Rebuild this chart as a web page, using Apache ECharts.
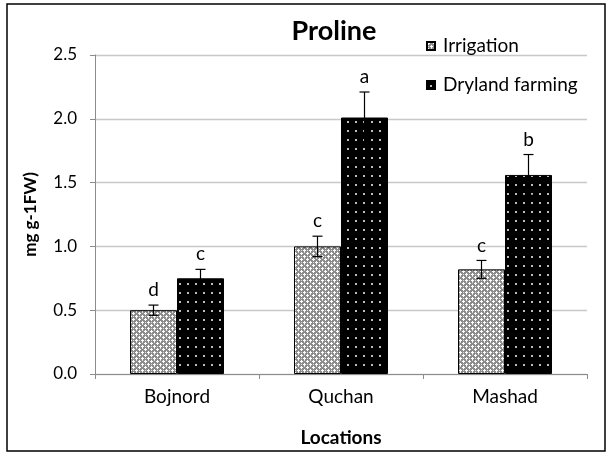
<!DOCTYPE html>
<html><head><meta charset="utf-8">
<script src="https://cdn.jsdelivr.net/npm/echarts@6/dist/echarts.min.js"></script>
<style>html,body{margin:0;padding:0;background:#fff}#c{width:608px;height:453px}</style>
</head><body><div id="c"></div>
<script>
const categories = ['Bojnord', 'Quchan', 'Mashad'];
const irrigation = [0.50, 1.00, 0.82];
const irrigationErr = [0.04, 0.08, 0.07];
const irrigationLetters = ['d', 'c', 'c'];
const dryland = [0.75, 2.01, 1.56];
const drylandErr = [0.07, 0.20, 0.16];
const drylandLetters = ['c', 'a', 'b'];
const yTicks = [0, 0.5, 1.0, 1.5, 2.0, 2.5];

const FONT = 'Lato';

function makeIrrigationPattern() {
  const c = document.createElement('canvas');
  c.width = 6; c.height = 6;
  const g = c.getContext('2d');
  g.fillStyle = '#8c8c8c';
  g.fillRect(0, 0, 6, 6);
  g.fillStyle = '#ffffff';
  g.fillRect(1, 0, 1, 3); g.fillRect(0, 1, 3, 1);
  g.fillRect(4, 3, 1, 3); g.fillRect(3, 4, 3, 1);
  g.fillStyle = '#d8d8d8';
  g.fillRect(4, 0, 1, 1); g.fillRect(1, 4, 1, 1);
  return c;
}
function makeDrylandPattern() {
  const c = document.createElement('canvas');
  c.width = 8; c.height = 9;
  const g = c.getContext('2d');
  g.fillStyle = '#000000';
  g.fillRect(0, 0, 8, 9);
  g.fillStyle = '#bdbdbd';
  g.fillRect(3, 4, 2, 2);
  return c;
}
const irrPat = { image: makeIrrigationPattern(), repeat: 'repeat' };
const dryPat = { image: makeDrylandPattern(), repeat: 'repeat' };

const BW = 47;
function errSeries(name, vals, errs, letters, side) {
  return {
    type: 'custom',
    name: name + '_err',
    z: 5,
    silent: true,
    data: vals.map((v, i) => [i, v, errs[i]]),
    renderItem: function (params, api) {
      const i = api.value(0), v = api.value(1), e = api.value(2);
      const letter = letters[params.dataIndex];
      const top = api.coord([i, v + e]);
      const bot = api.coord([i, v - e]);
      const x = top[0] + side * BW / 2;
      const cap = 5;
      const st = { stroke: '#000', lineWidth: 1.2 };
      return {
        type: 'group',
        children: [
          { type: 'line', shape: { x1: x, y1: top[1], x2: x, y2: bot[1] }, style: st },
          { type: 'line', shape: { x1: x - cap, y1: top[1], x2: x + cap, y2: top[1] }, style: st },
          { type: 'line', shape: { x1: x - cap, y1: bot[1], x2: x + cap, y2: bot[1] }, style: st },
          { type: 'text', style: { text: letter, x: x, y: top[1] - 15, align: 'center', verticalAlign: 'middle', font: '19px ' + FONT, fill: '#000' } }
        ]
      };
    }
  };
}

const chart = echarts.init(document.getElementById('c'), null, { renderer: 'canvas' });
chart.setOption({
  animation: false,
  backgroundColor: '#fff',
  textStyle: { fontFamily: FONT },
  title: {
    text: 'Proline', left: 329, top: 13, textAlign: 'center',
    textStyle: { fontFamily: FONT, fontWeight: 'bold', fontSize: 27, color: '#000' }
  },
  legend: {
    orient: 'vertical', left: 421, top: 31, itemWidth: 8, itemHeight: 8, itemGap: 19,
    icon: 'rect',
    data: ['Irrigation', 'Dryland farming'],
    textStyle: { fontFamily: FONT, fontSize: 19, lineHeight: 20, color: '#000', padding: [0, 0, 0, 3] }
  },
  grid: { left: 95, right: 21, top: 55, bottom: 79 },
  xAxis: {
    type: 'category', data: categories,
    name: 'Locations', nameLocation: 'middle', nameGap: 54,
    nameTextStyle: { fontFamily: FONT, fontWeight: 'bold', fontSize: 19, color: '#000' },
    axisLine: { lineStyle: { color: '#8c8c8c' } },
    axisTick: { show: true, length: 5, lineStyle: { color: '#8c8c8c' } },
    axisLabel: { fontFamily: FONT, fontSize: 19, color: '#000', margin: 13 }
  },
  yAxis: {
    type: 'value', min: 0, max: 2.5, interval: 0.5,
    name: 'mg g-1FW)', nameLocation: 'middle', nameGap: 56, nameRotate: 90,
    nameTextStyle: { fontFamily: FONT, fontWeight: 'bold', fontSize: 17, color: '#000' },
    axisLine: { show: true, lineStyle: { color: '#8c8c8c' } },
    axisTick: { show: true, length: 5, lineStyle: { color: '#8c8c8c' } },
    splitLine: { lineStyle: { color: '#c8c8c8', width: 1.3 } },
    axisLabel: {
      fontFamily: FONT, fontSize: 17, color: '#000', margin: 18,
      formatter: v => yTicks.indexOf(v) >= 0 ? v.toFixed(1) : ''
    }
  },
  series: [
    { type: 'bar', name: 'Irrigation', data: irrigation, barWidth: BW, barGap: '0%',
      itemStyle: { color: irrPat, borderColor: '#000', borderWidth: 1 } },
    { type: 'bar', name: 'Dryland farming', data: dryland, barWidth: BW, barGap: '0%',
      itemStyle: { color: dryPat, borderColor: '#000', borderWidth: 1 } },
    errSeries('Irrigation', irrigation, irrigationErr, irrigationLetters, -1),
    errSeries('Dryland farming', dryland, drylandErr, drylandLetters, 1)
  ],
  graphic: [
    { type: 'rect', shape: { x: 7, y: 4, width: 598, height: 447 },
      style: { fill: 'none', stroke: '#000', lineWidth: 1.5 }, z: 100 }
  ]
});
</script></body></html>
